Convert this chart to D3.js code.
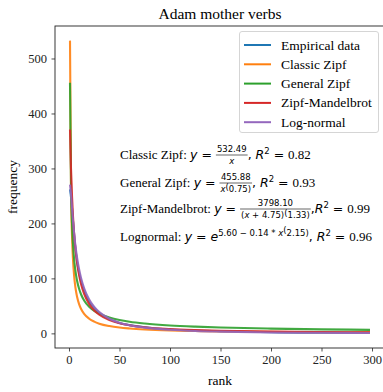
<!DOCTYPE html>
<html>
<head>
<meta charset="utf-8">
<script src="https://cdn.jsdelivr.net/npm/d3@7"></script>
<style>
  body { margin: 0; background: #fff; }
  text { white-space: pre; }
</style>
</head>
<body>
<div id="chart"></div>
<script>
const ranks = [1, 2, 3, 4, 5, 6, 7, 8, 10, 12, 15, 20, 25, 30, 40, 50, 60, 75, 100, 125, 150, 200, 250, 298];

const empirical   = [262, 248, 228, 204, 180, 160, 145, 130, 110, 95, 78, 58, 46, 37, 26, 19, 15, 11, 7, 5, 4, 2, 1, 1];
const classicZipf = [532.5, 266.2, 177.5, 133.1, 106.5, 88.7, 76.1, 66.6, 53.2, 44.4, 35.5, 26.6, 21.3, 17.7, 13.3, 10.6, 8.9, 7.1, 5.3, 4.3, 3.6, 2.7, 2.1, 1.8];
const generalZipf = [455.9, 271.1, 200.0, 161.2, 136.3, 118.9, 105.9, 95.8, 81.1, 70.7, 59.8, 48.2, 40.8, 35.6, 28.7, 24.2, 21.1, 17.9, 14.4, 12.2, 10.6, 8.6, 7.3, 6.4];
const zipfMandel  = [370.9, 299.5, 249.4, 212.2, 183.7, 161.3, 143.3, 128.6, 105.9, 89.5, 71.9, 53.2, 41.7, 33.9, 24.2, 18.5, 14.8, 11.2, 7.8, 5.9, 4.7, 3.2, 2.4, 1.9];
const logNormal   = [270.4, 253.5, 227.9, 203.8, 183.2, 165.6, 150.5, 137.6, 116.6, 100.4, 82.1, 61.5, 48.0, 38.6, 26.6, 19.5, 14.9, 10.5, 6.5, 4.3, 3.1, 1.7, 1.1, 0.7];

const seriesNames = ["Empirical data", "Classic Zipf", "General Zipf", "Zipf-Mandelbrot", "Log-normal"];
const seriesColors = ["#1f77b4", "#ff7f0e", "#2ca02c", "#d62728", "#9467bd"];
const allSeries = [empirical, classicZipf, generalZipf, zipfMandel, logNormal];

const xTicks = [0, 50, 100, 150, 200, 250, 300];
const yTicks = [0, 100, 200, 300, 400, 500];

const W = 383, H = 392;
const m = { left: 55, right: 385, top: 26, bottom: 348 };

const svg = d3.select("#chart").append("svg")
    .attr("width", W)
    .attr("height", H);

// matplotlib-like 5% margins
const xMin = 1, xMax = 298, yMin = 0, yMax = 532.49;
const x = d3.scaleLinear()
    .domain([xMin - 0.05 * (xMax - xMin), xMax + 0.05 * (xMax - xMin)])
    .range([m.left, m.right]);
const y = d3.scaleLinear()
    .domain([yMin - 0.05 * (yMax - yMin), yMax + 0.05 * (yMax - yMin)])
    .range([m.bottom, m.top]);

const serif = "'Liberation Serif', 'DejaVu Serif', serif";
const sans = "'DejaVu Sans', sans-serif";

// curves
const line = d3.line()
    .x((d, i) => x(ranks[i]))
    .y(d => y(d))
    .curve(d3.curveMonotoneX);

const plot = svg.append("g");
plot.append("clipPath").attr("id", "clip")
  .append("rect").attr("x", m.left).attr("y", m.top).attr("width", m.right - m.left).attr("height", m.bottom - m.top);

plot.selectAll("path.curve")
  .data(allSeries)
  .enter().append("path")
    .attr("class", "curve")
    .attr("d", line)
    .attr("fill", "none")
    .attr("stroke", (d, i) => seriesColors[i])
    .attr("stroke-width", 2.1)
    .attr("stroke-opacity", 0.9)
    .attr("clip-path", "url(#clip)");

// axes
const xAxis = svg.append("g")
    .attr("transform", `translate(0,${m.bottom})`)
    .call(d3.axisBottom(x).tickValues(xTicks).tickSize(3.5).tickPadding(3.5).tickSizeOuter(0));
const yAxis = svg.append("g")
    .attr("transform", `translate(${m.left},0)`)
    .call(d3.axisLeft(y).tickValues(yTicks).tickSize(3.5).tickPadding(4.5).tickSizeOuter(0));

[xAxis, yAxis].forEach(a => {
  a.select(".domain").remove();
  a.selectAll("line").attr("stroke", "#222").attr("stroke-width", 0.8);
  a.selectAll("text")
    .attr("fill", "#222")
    .style("font-family", serif)
    .style("font-size", "12.5px");
});

// spines
svg.append("rect")
    .attr("x", m.left).attr("y", m.top)
    .attr("width", m.right - m.left).attr("height", m.bottom - m.top)
    .attr("fill", "none")
    .attr("stroke", "#222")
    .attr("stroke-width", 0.9);

// title and labels
svg.append("text")
    .attr("x", (m.left + m.right) / 2).attr("y", 18.5)
    .attr("text-anchor", "middle")
    .style("font-family", serif).style("font-size", "15.5px")
    .text("Adam mother verbs");

svg.append("text")
    .attr("x", (m.left + m.right) / 2).attr("y", 385)
    .attr("text-anchor", "middle")
    .style("font-family", serif).style("font-size", "13.5px")
    .text("rank");

svg.append("text")
    .attr("transform", `translate(17,${(m.top + m.bottom) / 2}) rotate(-90)`)
    .attr("text-anchor", "middle")
    .style("font-family", serif).style("font-size", "13.5px")
    .text("frequency");

// legend
const lg = svg.append("g");
lg.append("rect")
    .attr("x", 239.5).attr("y", 31.5)
    .attr("width", 139).attr("height", 101)
    .attr("rx", 2.5)
    .attr("fill", "#fff").attr("fill-opacity", 0.8)
    .attr("stroke", "#d0d0d0").attr("stroke-width", 0.9);

seriesNames.forEach((name, i) => {
  const cy = 45 + i * 19.3;
  lg.append("line")
      .attr("x1", 244).attr("x2", 271)
      .attr("y1", cy).attr("y2", cy)
      .attr("stroke", seriesColors[i]).attr("stroke-width", 2);
  lg.append("text")
      .attr("x", 281).attr("y", cy + 4.5)
      .style("font-family", serif).style("font-size", "13.5px")
      .text(name);
});

// equation annotations
const styles = {
  rm:  { family: serif, size: 13, italic: false },
  mi:  { family: sans, size: 12.5, italic: true },
  mr:  { family: sans, size: 12.5, italic: false },
  sm:  { family: sans, size: 8.5, italic: false },
  smi: { family: sans, size: 8.5, italic: true }
};

function styleText(sel, st) {
  const s = styles[st];
  return sel
    .style("font-family", s.family)
    .style("font-size", s.size + "px")
    .style("font-style", s.italic ? "italic" : "normal");
}

// items: plain {s, st, dy}, joined {sp: [[s, st, dy], ...]} (one text, several tspans), or fraction {num, den}
function layout(g, x0, y0, items) {
  let cx = x0;
  items.forEach(it => {
    if (it.num) {
      const tmp = g.append("g");
      const wn = layout(tmp, 0, 0, it.num);
      const wd = layout(tmp, 0, 0, it.den);
      tmp.remove();
      const w = Math.max(wn, wd) + 2;
      layout(g, cx + (w - wn) / 2, y0 - 7, it.num);
      layout(g, cx + (w - wd) / 2, y0 + 5, it.den);
      g.append("line")
          .attr("x1", cx).attr("x2", cx + w)
          .attr("y1", y0 - 4).attr("y2", y0 - 4)
          .attr("stroke", "#000").attr("stroke-width", 0.6);
      cx += w;
    } else if (it.sp) {
      const t = g.append("text").attr("x", cx).attr("y", y0);
      let prev = 0;
      it.sp.forEach(([s, st, dy]) => {
        const d = dy || 0;
        styleText(t.append("tspan").attr("dy", d - prev), st).text(s);
        prev = d;
      });
      cx += t.node().getComputedTextLength();
    } else {
      const t = styleText(g.append("text")
          .attr("x", cx).attr("y", y0 + (it.dy || 0)), it.st)
          .text(it.s);
      cx += t.node().getComputedTextLength();
    }
  });
  return cx - x0;
}

const r2 = (v, sep) => [
  { sp: [[sep, "mr"], ["R", "mi"], ["2", "sm", -5.5], [" = ", "mr"], [v, "rm"]] }
];

const lhs = name => ({ sp: [[name, "rm"], ["y", "mi"], [" = ", "mr"]] });

const equations = [
  { y: 159, items: [
    lhs("Classic Zipf: "),
    { num: [{ s: "532.49", st: "sm" }], den: [{ s: "x", st: "smi" }] },
    ...r2("0.82", ", ")] },
  { y: 187, items: [
    lhs("General Zipf: "),
    { num: [{ s: "455.88", st: "sm" }], den: [{ sp: [["x", "smi"], ["(", "sm", -2], ["0.75)", "sm"]] }] },
    ...r2("0.93", ", ")] },
  { y: 213, items: [
    lhs("Zipf-Mandelbrot: "),
    { num: [{ s: "3798.10", st: "sm" }], den: [{ sp: [["(", "sm"], ["x", "smi"], [" + 4.75)", "sm"], ["(", "sm", -2], ["1.33)", "sm"]] }] },
    ...r2("0.99", ",")] },
  { y: 241, items: [
    lhs("Lognormal: "),
    { sp: [["e", "mi"], ["5.60 \u2212 0.14 * ", "sm", -5.5], ["x", "smi", -5.5], ["(", "sm", -8], ["2.15)", "sm", -5.5]] },
    ...r2("0.96", ", ")] }
];

const eqG = svg.append("g");
equations.forEach(eq => layout(eqG, 120, eq.y, eq.items));
</script>
</body>
</html>
